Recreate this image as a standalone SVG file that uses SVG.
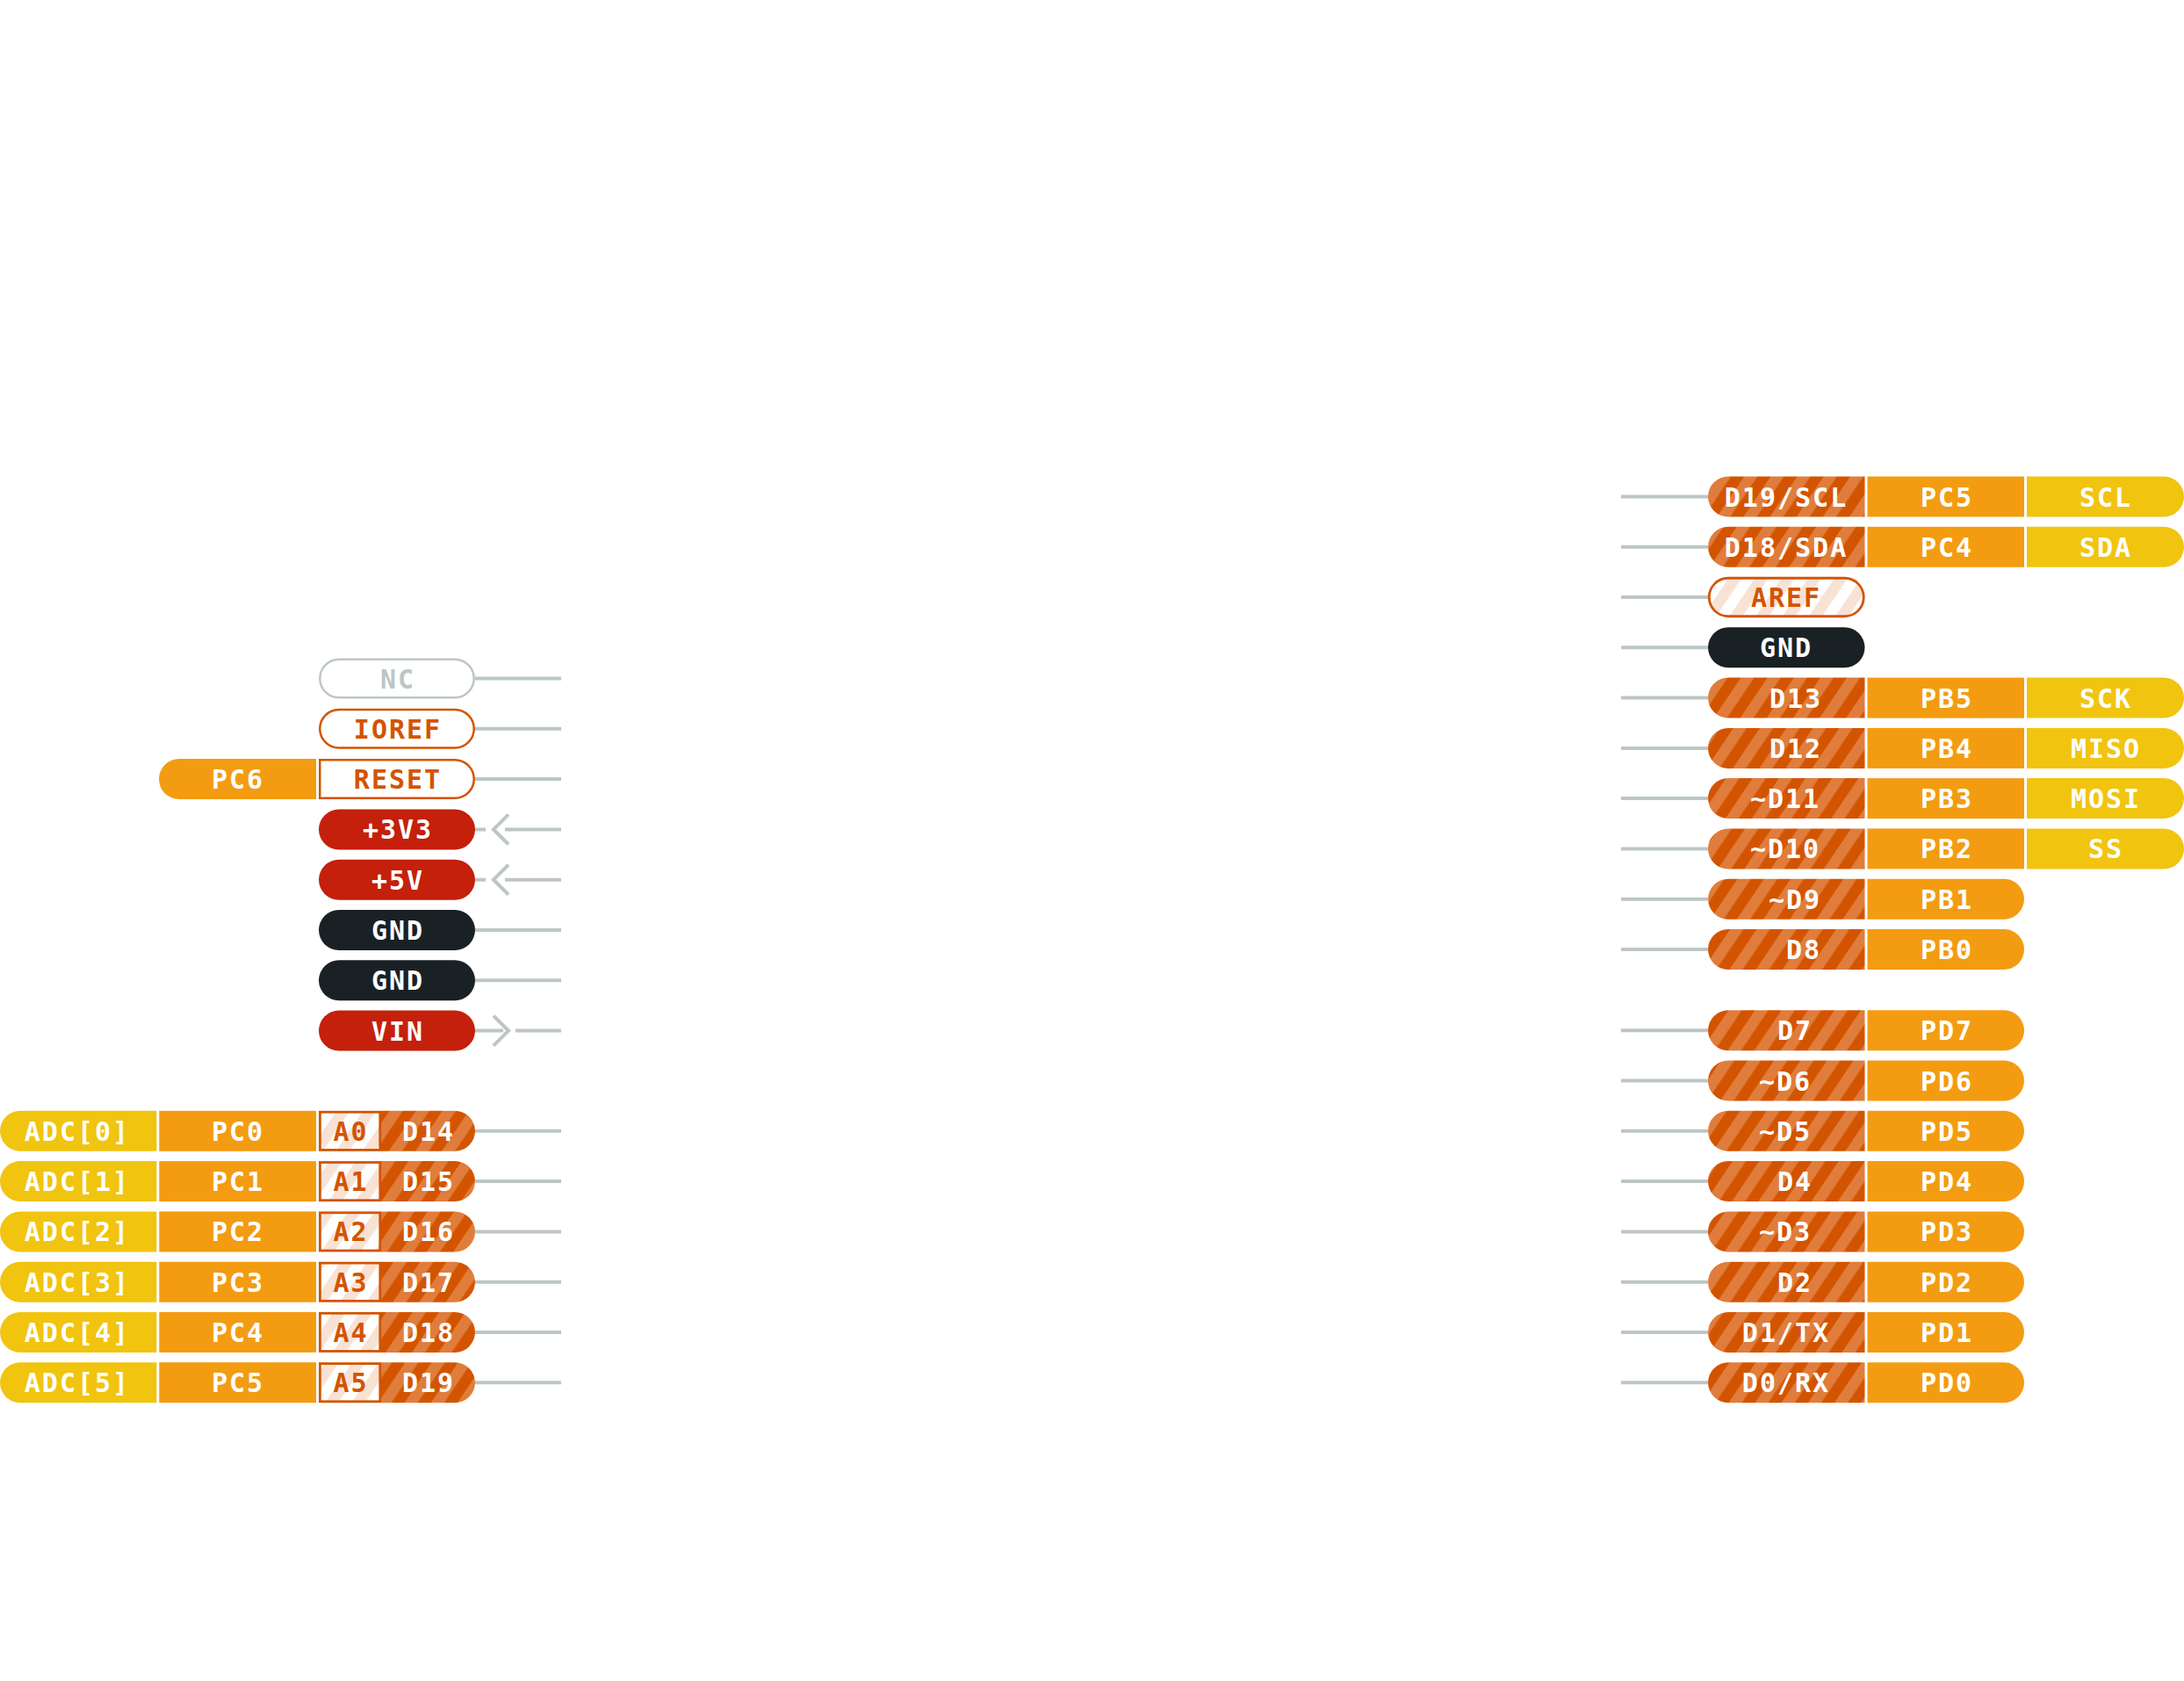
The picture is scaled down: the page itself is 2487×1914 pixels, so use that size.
<svg xmlns="http://www.w3.org/2000/svg" width="2487" height="1914" viewBox="0 0 2487 1914">
<style>
.t{font-family:'DejaVu Sans Mono','Liberation Mono',monospace;font-weight:bold;font-size:30px;letter-spacing:2px;text-anchor:middle;fill:#fff}
.to{fill:#D35400}
.tg{fill:#BDC6C6}
.y{fill:#F1C40F}
.o{fill:#F39C12}
.d{fill:url(#st)}
.r{fill:#C4200B}
.k{fill:#1A2125}
.ln{stroke:#BDC6C6;stroke-width:4;fill:none}
.ob{fill:#fff;stroke:#D35400;stroke-width:2.5}
.ab{fill:url(#sp);stroke:#D35400;stroke-width:2.8}
</style>
<defs>
<pattern id="st" patternUnits="userSpaceOnUse" width="25" height="25" patternTransform="rotate(34)">
<rect width="25" height="25" fill="#D35400"/>
<rect width="12.5" height="25" fill="#E07D3C"/>
</pattern>
<pattern id="sp" patternUnits="userSpaceOnUse" width="25" height="25" patternTransform="rotate(34)">
<rect width="25" height="25" fill="#FFFFFF"/>
<rect width="12.5" height="25" fill="#F8E2D4"/>
</pattern>
</defs>
<rect width="2487" height="1914" fill="#fff"/>

<g id="connectors">
<path class="ln" d="M541 772.5H639M541 829.8H639M541 887.1H639M541 1059H639M541 1116.3H639"/>
<path class="ln" d="M541 944.4H553M579 927.4L562 944.4L579 961.4M575 944.4H639"/>
<path class="ln" d="M541 1001.7H553M579 984.7L562 1001.7L579 1018.7M575 1001.7H639"/>
<path class="ln" d="M541 1173.6H573M562 1156.6L579 1173.6L562 1190.6M587 1173.6H639"/>
<path class="ln" d="M541 1287.8H639M541 1345.1H639M541 1402.4H639M541 1459.7H639M541 1516.9H639M541 1574.2H639"/>
<path class="ln" d="M1846 565.5H1945M1846 622.8H1945M1846 680H1945M1846 737.3H1945M1846 794.6H1945M1846 851.9H1945M1846 909.1H1945M1846 966.4H1945M1846 1023.7H1945M1846 1080.9H1945"/>
<path class="ln" d="M1846 1173.3H1945M1846 1230.6H1945M1846 1287.8H1945M1846 1345.1H1945M1846 1402.4H1945M1846 1459.7H1945M1846 1516.9H1945M1846 1574.2H1945"/>
</g>

<g id="pin-NC"><rect x="364.25" y="750.75" width="175.5" height="43.5" rx="21.75" fill="#fff" stroke="#BDC6C6" stroke-width="2.5"/><text class="t tg" x="453" y="783.5">NC</text></g>
<g id="pin-IOREF"><rect class="ob" x="364.25" y="808.05" width="175.5" height="43.5" rx="21.75"/><text class="t to" x="453" y="840.8">IOREF</text></g>
<g id="pin-RESET"><path class="o" d="M360 864.1H204A23 23 0 0 0 204 910.1H360Z"/><text class="t" x="271" y="898.1">PC6</text><path class="ob" d="M364.25 865.35H518A21.75 21.75 0 0 1 518 908.85H364.25Z"/><text class="t to" x="453" y="898.1">RESET</text></g>
<g id="pin-3V3"><rect class="r" x="363" y="921.4" width="178" height="46" rx="23"/><text class="t" x="453" y="955.4">+3V3</text></g>
<g id="pin-5V"><rect class="r" x="363" y="978.7" width="178" height="46" rx="23"/><text class="t" x="453" y="1012.7">+5V</text></g>
<g id="pin-GND1"><rect class="k" x="363" y="1036" width="178" height="46" rx="23"/><text class="t" x="453" y="1070">GND</text></g>
<g id="pin-GND2"><rect class="k" x="363" y="1093.3" width="178" height="46" rx="23"/><text class="t" x="453" y="1127.3">GND</text></g>
<g id="pin-VIN"><rect class="r" x="363" y="1150.6" width="178" height="46" rx="23"/><text class="t" x="453" y="1184.6">VIN</text></g>

<g id="pin-A0"><path class="y" d="M178.3 1264.8H23A23 23 0 0 0 23 1310.8H178.3Z"/><text class="t" x="88" y="1298.8">ADC[0]</text><rect class="o" x="181.3" y="1264.8" width="178.7" height="46"/><text class="t" x="271" y="1298.8">PC0</text><path class="d" d="M434 1264.8H518A23 23 0 0 1 518 1310.8H434Z"/><rect class="ab" x="364.4" y="1266.2" width="68.4" height="43.2"/><text class="t to" x="399.5" y="1298.8">A0</text><text class="t" x="488" y="1298.8">D14</text></g>
<g id="pin-A1"><path class="y" d="M178.3 1322.1H23A23 23 0 0 0 23 1368.1H178.3Z"/><text class="t" x="88" y="1356.1">ADC[1]</text><rect class="o" x="181.3" y="1322.1" width="178.7" height="46"/><text class="t" x="271" y="1356.1">PC1</text><path class="d" d="M434 1322.1H518A23 23 0 0 1 518 1368.1H434Z"/><rect class="ab" x="364.4" y="1323.5" width="68.4" height="43.2"/><text class="t to" x="399.5" y="1356.1">A1</text><text class="t" x="488" y="1356.1">D15</text></g>
<g id="pin-A2"><path class="y" d="M178.3 1379.4H23A23 23 0 0 0 23 1425.4H178.3Z"/><text class="t" x="88" y="1413.4">ADC[2]</text><rect class="o" x="181.3" y="1379.4" width="178.7" height="46"/><text class="t" x="271" y="1413.4">PC2</text><path class="d" d="M434 1379.4H518A23 23 0 0 1 518 1425.4H434Z"/><rect class="ab" x="364.4" y="1380.8" width="68.4" height="43.2"/><text class="t to" x="399.5" y="1413.4">A2</text><text class="t" x="488" y="1413.4">D16</text></g>
<g id="pin-A3"><path class="y" d="M178.3 1436.7H23A23 23 0 0 0 23 1482.7H178.3Z"/><text class="t" x="88" y="1470.7">ADC[3]</text><rect class="o" x="181.3" y="1436.7" width="178.7" height="46"/><text class="t" x="271" y="1470.7">PC3</text><path class="d" d="M434 1436.7H518A23 23 0 0 1 518 1482.7H434Z"/><rect class="ab" x="364.4" y="1438.1" width="68.4" height="43.2"/><text class="t to" x="399.5" y="1470.7">A3</text><text class="t" x="488" y="1470.7">D17</text></g>
<g id="pin-A4"><path class="y" d="M178.3 1493.9H23A23 23 0 0 0 23 1539.9H178.3Z"/><text class="t" x="88" y="1527.9">ADC[4]</text><rect class="o" x="181.3" y="1493.9" width="178.7" height="46"/><text class="t" x="271" y="1527.9">PC4</text><path class="d" d="M434 1493.9H518A23 23 0 0 1 518 1539.9H434Z"/><rect class="ab" x="364.4" y="1495.3" width="68.4" height="43.2"/><text class="t to" x="399.5" y="1527.9">A4</text><text class="t" x="488" y="1527.9">D18</text></g>
<g id="pin-A5"><path class="y" d="M178.3 1551.2H23A23 23 0 0 0 23 1597.2H178.3Z"/><text class="t" x="88" y="1585.2">ADC[5]</text><rect class="o" x="181.3" y="1551.2" width="178.7" height="46"/><text class="t" x="271" y="1585.2">PC5</text><path class="d" d="M434 1551.2H518A23 23 0 0 1 518 1597.2H434Z"/><rect class="ab" x="364.4" y="1552.6" width="68.4" height="43.2"/><text class="t to" x="399.5" y="1585.2">A5</text><text class="t" x="488" y="1585.2">D19</text></g>

<g id="pin-D19"><path class="d" d="M2123.5 542.5H1968A23 23 0 0 0 1968 588.5H2123.5Z"/><text class="t" x="2034" y="576.5">D19/SCL</text><rect class="o" x="2126.5" y="542.5" width="178.5" height="46"/><text class="t" x="2217" y="576.5">PC5</text><path class="y" d="M2308 542.5H2464A23 23 0 0 1 2464 588.5H2308Z"/><text class="t" x="2398" y="576.5">SCL</text></g>
<g id="pin-D18"><path class="d" d="M2123.5 599.8H1968A23 23 0 0 0 1968 645.8H2123.5Z"/><text class="t" x="2034" y="633.8">D18/SDA</text><rect class="o" x="2126.5" y="599.8" width="178.5" height="46"/><text class="t" x="2217" y="633.8">PC4</text><path class="y" d="M2308 599.8H2464A23 23 0 0 1 2464 645.8H2308Z"/><text class="t" x="2398" y="633.8">SDA</text></g>
<g id="pin-AREF"><rect class="ab" x="1946.25" y="658.25" width="176" height="43.5" rx="21.75" stroke-width="2.5"/><text class="t to" x="2034" y="691">AREF</text></g>
<g id="pin-GND3"><rect class="k" x="1945" y="714.3" width="178.5" height="46" rx="23"/><text class="t" x="2034" y="748.3">GND</text></g>
<g id="pin-D13"><path class="d" d="M2123.5 771.6H1968A23 23 0 0 0 1968 817.6H2123.5Z"/><text class="t" x="2045" y="805.6">D13</text><rect class="o" x="2126.5" y="771.6" width="178.5" height="46"/><text class="t" x="2217" y="805.6">PB5</text><path class="y" d="M2308 771.6H2464A23 23 0 0 1 2464 817.6H2308Z"/><text class="t" x="2398" y="805.6">SCK</text></g>
<g id="pin-D12"><path class="d" d="M2123.5 828.9H1968A23 23 0 0 0 1968 874.9H2123.5Z"/><text class="t" x="2045" y="862.9">D12</text><rect class="o" x="2126.5" y="828.9" width="178.5" height="46"/><text class="t" x="2217" y="862.9">PB4</text><path class="y" d="M2308 828.9H2464A23 23 0 0 1 2464 874.9H2308Z"/><text class="t" x="2398" y="862.9">MISO</text></g>
<g id="pin-D11"><path class="d" d="M2123.5 886.1H1968A23 23 0 0 0 1968 932.1H2123.5Z"/><text class="t" x="2033" y="920.1">~D11</text><rect class="o" x="2126.5" y="886.1" width="178.5" height="46"/><text class="t" x="2217" y="920.1">PB3</text><path class="y" d="M2308 886.1H2464A23 23 0 0 1 2464 932.1H2308Z"/><text class="t" x="2398" y="920.1">MOSI</text></g>
<g id="pin-D10"><path class="d" d="M2123.5 943.4H1968A23 23 0 0 0 1968 989.4H2123.5Z"/><text class="t" x="2033" y="977.4">~D10</text><rect class="o" x="2126.5" y="943.4" width="178.5" height="46"/><text class="t" x="2217" y="977.4">PB2</text><path class="y" d="M2308 943.4H2464A23 23 0 0 1 2464 989.4H2308Z"/><text class="t" x="2398" y="977.4">SS</text></g>
<g id="pin-D9"><path class="d" d="M2123.5 1000.7H1968A23 23 0 0 0 1968 1046.7H2123.5Z"/><text class="t" x="2044" y="1034.7">~D9</text><path class="o" d="M2126.5 1000.7H2282A23 23 0 0 1 2282 1046.7H2126.5Z"/><text class="t" x="2217" y="1034.7">PB1</text></g>
<g id="pin-D8"><path class="d" d="M2123.5 1057.9H1968A23 23 0 0 0 1968 1103.9H2123.5Z"/><text class="t" x="2054" y="1091.9">D8</text><path class="o" d="M2126.5 1057.9H2282A23 23 0 0 1 2282 1103.9H2126.5Z"/><text class="t" x="2217" y="1091.9">PB0</text></g>

<g id="pin-D7"><path class="d" d="M2123.5 1150.3H1968A23 23 0 0 0 1968 1196.3H2123.5Z"/><text class="t" x="2044" y="1184.3">D7</text><path class="o" d="M2126.5 1150.3H2282A23 23 0 0 1 2282 1196.3H2126.5Z"/><text class="t" x="2217" y="1184.3">PD7</text></g>
<g id="pin-D6"><path class="d" d="M2123.5 1207.6H1968A23 23 0 0 0 1968 1253.6H2123.5Z"/><text class="t" x="2033" y="1241.6">~D6</text><path class="o" d="M2126.5 1207.6H2282A23 23 0 0 1 2282 1253.6H2126.5Z"/><text class="t" x="2217" y="1241.6">PD6</text></g>
<g id="pin-D5"><path class="d" d="M2123.5 1264.8H1968A23 23 0 0 0 1968 1310.8H2123.5Z"/><text class="t" x="2033" y="1298.8">~D5</text><path class="o" d="M2126.5 1264.8H2282A23 23 0 0 1 2282 1310.8H2126.5Z"/><text class="t" x="2217" y="1298.8">PD5</text></g>
<g id="pin-D4"><path class="d" d="M2123.5 1322.1H1968A23 23 0 0 0 1968 1368.1H2123.5Z"/><text class="t" x="2044" y="1356.1">D4</text><path class="o" d="M2126.5 1322.1H2282A23 23 0 0 1 2282 1368.1H2126.5Z"/><text class="t" x="2217" y="1356.1">PD4</text></g>
<g id="pin-D3"><path class="d" d="M2123.5 1379.4H1968A23 23 0 0 0 1968 1425.4H2123.5Z"/><text class="t" x="2033" y="1413.4">~D3</text><path class="o" d="M2126.5 1379.4H2282A23 23 0 0 1 2282 1425.4H2126.5Z"/><text class="t" x="2217" y="1413.4">PD3</text></g>
<g id="pin-D2"><path class="d" d="M2123.5 1436.7H1968A23 23 0 0 0 1968 1482.7H2123.5Z"/><text class="t" x="2044" y="1470.7">D2</text><path class="o" d="M2126.5 1436.7H2282A23 23 0 0 1 2282 1482.7H2126.5Z"/><text class="t" x="2217" y="1470.7">PD2</text></g>
<g id="pin-D1"><path class="d" d="M2123.5 1493.9H1968A23 23 0 0 0 1968 1539.9H2123.5Z"/><text class="t" x="2034" y="1527.9">D1/TX</text><path class="o" d="M2126.5 1493.9H2282A23 23 0 0 1 2282 1539.9H2126.5Z"/><text class="t" x="2217" y="1527.9">PD1</text></g>
<g id="pin-D0"><path class="d" d="M2123.5 1551.2H1968A23 23 0 0 0 1968 1597.2H2123.5Z"/><text class="t" x="2034" y="1585.2">D0/RX</text><path class="o" d="M2126.5 1551.2H2282A23 23 0 0 1 2282 1597.2H2126.5Z"/><text class="t" x="2217" y="1585.2">PD0</text></g>
</svg>
